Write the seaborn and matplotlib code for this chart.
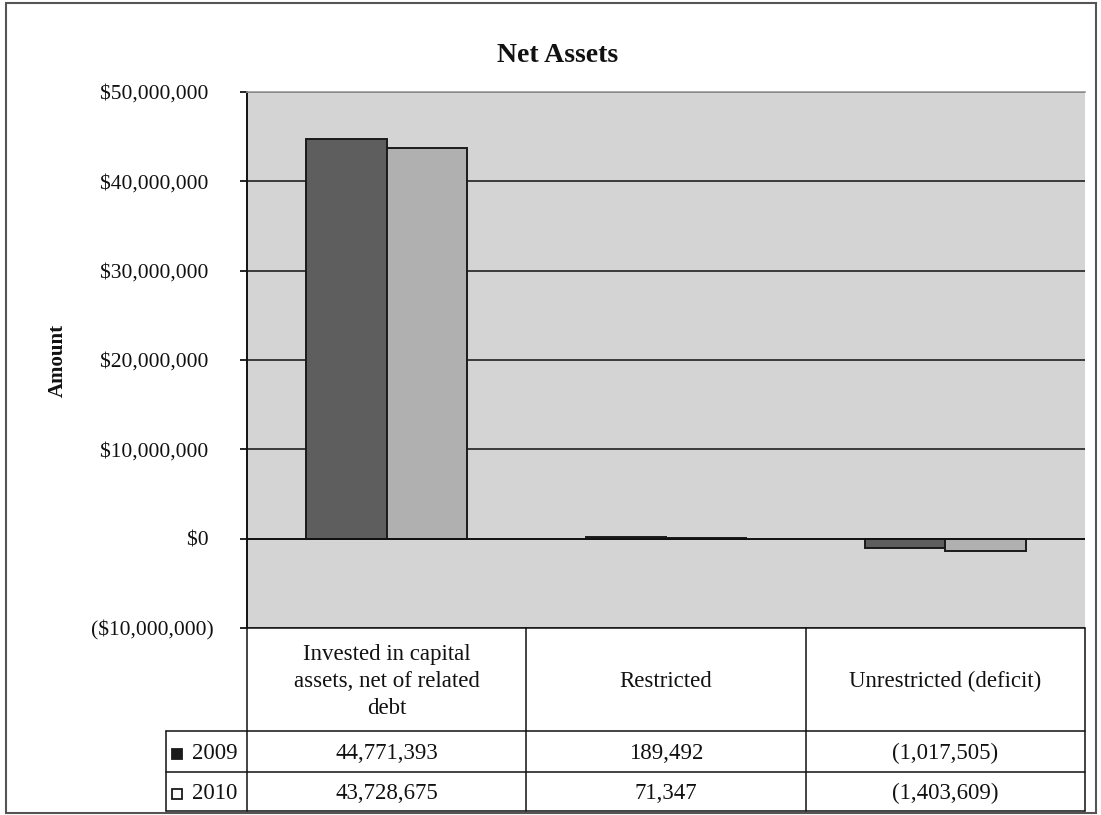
import matplotlib
matplotlib.use("Agg")
import matplotlib.pyplot as plt
import matplotlib.ticker as mticker
from matplotlib.patches import Rectangle
from matplotlib.lines import Line2D
import pandas as pd
import seaborn as sns

# Net asset categories and yearly amounts
categories = ["Invested in capital\nassets, net of related\ndebt", "Restricted", "Unrestricted (deficit)"]
years = ["2009", "2010"]
values_2009 = [44771393, 189492, -1017505]
values_2010 = [43728675, 71347, -1403609]
y_ticks = [-10_000_000, 0, 10_000_000, 20_000_000, 30_000_000, 40_000_000, 50_000_000]

bar_colors = {"2009": "#5e5e5e", "2010": "#b0b0b0"}

df = pd.DataFrame({
    "category": categories * 2,
    "year": [years[0]] * 3 + [years[1]] * 3,
    "amount": values_2009 + values_2010,
})

sns.set_theme(style="white")
plt.rcParams["font.family"] = ["Liberation Serif", "DejaVu Serif"]

W, H = 1101, 815
fig = plt.figure(figsize=(W / 100, H / 100), dpi=100)
left, right, top, bottom = 247, 1085, 92, 628
ax = fig.add_axes([left / W, 1 - bottom / H, (right - left) / W, (bottom - top) / H])
ax.set_facecolor("#d4d4d4")

sns.barplot(data=df, x="category", y="amount", hue="year", palette=bar_colors,
            width=0.575, gap=0, edgecolor="#1a1a1a", linewidth=1.4, ax=ax,
            legend=False, zorder=3)

ax.set_ylim(-10_000_000, 50_000_000)
ax.set_xlim(-0.5, 2.5)
ax.set_yticks(y_ticks)


def money(v, _pos=None):
    # accounting style: negatives in parentheses, positives padded for alignment
    if v < 0:
        return f"(${abs(v):,.0f})"
    return f"${v:,.0f} "


ax.yaxis.set_major_formatter(mticker.FuncFormatter(money))
ax.tick_params(axis="y", labelsize=15.5, length=5, width=1.2, color="black",
               direction="out", left=True, pad=19)
ax.tick_params(axis="x", bottom=False, labelbottom=False)
for t in ax.get_yticklabels():
    t.set_color("#111111")

ax.yaxis.grid(True, color="#111111", linewidth=1.1, zorder=1)
ax.set_axisbelow(True)
ax.axhline(0, color="#111111", linewidth=1.3, zorder=4)

for side in ["right", "bottom"]:
    ax.spines[side].set_visible(False)
ax.spines["left"].set_color("#111111")
ax.spines["left"].set_linewidth(1.4)
ax.spines["top"].set_color("#9a9a9a")
ax.spines["top"].set_linewidth(1.2)

ax.set_xlabel("")
ax.set_ylabel("Amount", fontsize=15, fontweight="bold", color="#111111")
ax.yaxis.set_label_coords((68 - left) / (right - left), 0.5)
fig.text(558 / W, 1 - 55 / H, "Net Assets", ha="center", va="center",
         fontsize=20, fontweight="bold", color="#111111")

# Data table drawn beneath the plot area in axes coordinates
ph = bottom - top
pw = right - left
def ya(py):
    return (bottom - py) / ph
def xa(px):
    return (px - left) / pw

row_edges = [628, 731, 772, 811]
label_left = 166
line_kw = dict(transform=ax.transAxes, color="#111111", linewidth=1.1, clip_on=False)

# horizontal rules
ax.add_line(Line2D([0, 1], [ya(628), ya(628)], **line_kw))
for py in row_edges[1:]:
    ax.add_line(Line2D([xa(label_left), 1], [ya(py), ya(py)], **line_kw))
# vertical rules
for i in range(4):
    xv = i / 3
    ax.add_line(Line2D([xv, xv], [ya(628), ya(811)], **line_kw))
ax.add_line(Line2D([xa(label_left), xa(label_left)], [ya(731), ya(811)], **line_kw))

# header cells
for i, cat in enumerate(categories):
    ax.text((i + 0.5) / 3, ya((628 + 731) / 2 + 2), cat, transform=ax.transAxes,
            ha="center", va="center", fontsize=16.5, linespacing=1.38, color="#111111")


def fmt_num(v):
    return f"({abs(v):,})" if v < 0 else f"{v:,}"


series = [values_2009, values_2010]
for r, (yr, vals) in enumerate(zip(years, series)):
    yc = ya((row_edges[r + 1] + row_edges[r + 2]) / 2 + 2)
    for i, v in enumerate(vals):
        ax.text((i + 0.5) / 3, yc, fmt_num(v), transform=ax.transAxes,
                ha="center", va="center", fontsize=16.5, color="#111111")
    # legend key and year label
    kw = 10 / pw
    kh = 10 / ph
    key = Rectangle((xa(172), yc - kh / 2), kw, kh, transform=ax.transAxes,
                    facecolor="#1a1a1a" if r == 0 else "white",
                    edgecolor="#1a1a1a", linewidth=1.3, clip_on=False)
    ax.add_patch(key)
    ax.text(xa(192), yc, yr, transform=ax.transAxes, ha="left", va="center",
            fontsize=16.5, color="#111111")

# outer chart border
fig.add_artist(Rectangle((6 / W, 2 / H), 1 - 11 / W, 1 - 5 / H, transform=fig.transFigure,
                         fill=False, edgecolor="#555555", linewidth=1.5))

fig.savefig("out.png", dpi=100, facecolor="white")
